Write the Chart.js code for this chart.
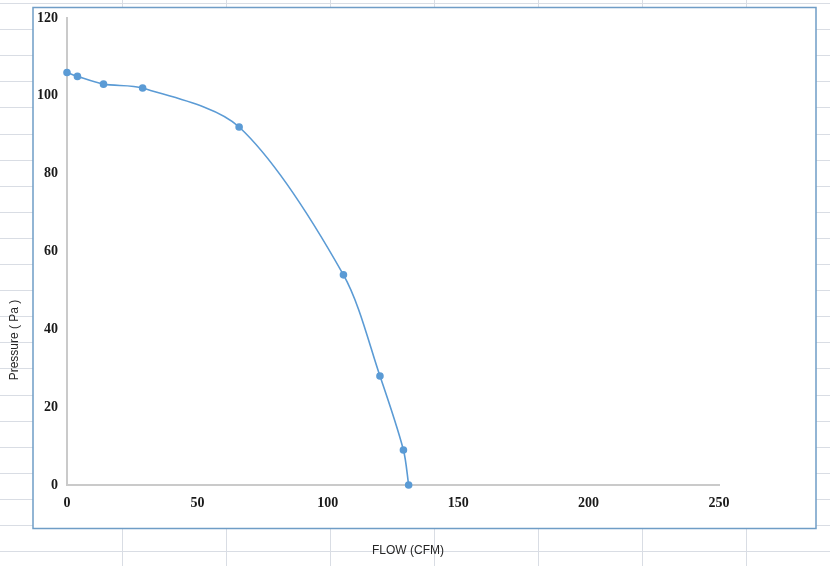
<!DOCTYPE html>
<html>
<head>
<meta charset="utf-8">
<script src="https://cdn.jsdelivr.net/npm/chart.js@4/dist/chart.umd.min.js"></script>
<style>
html,body{margin:0;padding:0;background:#fff;}
#wrap{position:relative;width:830px;height:566px;}
</style>
</head>
<body>
<div id="wrap"><canvas id="c" width="830" height="566"></canvas></div>
<script>
const flowValues = [0, 4, 14, 29, 66, 106, 120, 129, 131];
const pressureValues = [106, 105, 103, 102, 92, 54, 28, 9, 0];
const xTicks = [0, 50, 100, 150, 200, 250];
const yTicks = [0, 20, 40, 60, 80, 100, 120];
const xTitle = 'FLOW (CFM)';
const yTitle = 'Pressure ( Pa )';

const points = flowValues.map((x, i) => ({x: x, y: pressureValues[i]}));

const sheetPlugin = {
  id: 'sheet',
  beforeDraw(chart) {
    const ctx = chart.ctx;
    const W = chart.width, H = chart.height;
    ctx.save();
    ctx.fillStyle = '#ffffff';
    ctx.fillRect(0, 0, W, H);
    ctx.strokeStyle = '#d9dde4';
    ctx.lineWidth = 1;
    for (let y = 3; y < H; y += 26.1) {
      ctx.beginPath(); ctx.moveTo(0, Math.round(y) + 0.5); ctx.lineTo(W, Math.round(y) + 0.5); ctx.stroke();
    }
    for (let x = 122; x < W; x += 104) {
      ctx.beginPath(); ctx.moveTo(x + 0.5, 0); ctx.lineTo(x + 0.5, H); ctx.stroke();
    }
    ctx.fillStyle = '#ffffff';
    ctx.fillRect(33, 7, 783, 521);
    ctx.strokeStyle = '#6f9dc6';
    ctx.lineWidth = 1.5;
    ctx.strokeRect(33, 7.5, 783, 521);
    ctx.fillStyle = '#262626';
    ctx.font = '12px "Liberation Sans", Arial, sans-serif';
    ctx.textAlign = 'center';
    ctx.textBaseline = 'middle';
    ctx.fillText(xTitle, 408, 551);
    ctx.translate(15, 340);
    ctx.rotate(-Math.PI / 2);
    ctx.fillText(yTitle, 0, 0);
    ctx.restore();
  }
};

// Excel-like smoothing: control points at P +/- (Pnext - Pprev)/6, capped at half segment
const smoothPlugin = {
  id: 'excelSmooth',
  beforeDatasetsDraw(chart) {
    const meta = chart.getDatasetMeta(0);
    const line = meta.dataset;
    line.updateControlPoints(chart.chartArea, 'x');
    const pts = meta.data;
    const n = pts.length;
    const f = 1 / 6;
    for (let i = 0; i < n; i++) {
      const p = pts[i];
      const prev = pts[Math.max(0, i - 1)];
      const next = pts[Math.min(n - 1, i + 1)];
      let vx = (next.x - prev.x) * f, vy = (next.y - prev.y) * f;
      if (i === 0 || i === n - 1) { vx *= 0.5; vy *= 0.5; }
      const vl = Math.hypot(vx, vy) || 1;
      const dPrev = Math.hypot(p.x - prev.x, p.y - prev.y);
      const dNext = Math.hypot(next.x - p.x, next.y - p.y);
      const sPrev = Math.min(1, (dPrev / 2) / vl);
      const sNext = Math.min(1, (dNext / 2) / vl);
      p.controlPointPreviousX = p.x - vx * sPrev;
      p.controlPointPreviousY = p.y - vy * sPrev;
      p.controlPointNextX = p.x + vx * sNext;
      p.controlPointNextY = p.y + vy * sNext;
    }
  }
};

new Chart(document.getElementById('c'), {
  type: 'scatter',
  data: {
    datasets: [{
      data: points,
      showLine: true,
      clip: false,
      borderColor: '#5b9bd5',
      backgroundColor: '#5b9bd5',
      borderWidth: 1.6,
      pointRadius: 3,
      pointHoverRadius: 3,
      tension: 0.3
    }]
  },
  options: {
    responsive: false,
    animation: false,
    devicePixelRatio: 1,
    layout: {padding: {left: 0, right: 111, top: 18, bottom: 51}},
    plugins: {legend: {display: false}, tooltip: {enabled: false}},
    scales: {
      x: {
        type: 'linear', min: 0, max: 250,
        afterBuildTicks: s => { s.ticks = xTicks.map(v => ({value: v})); },
        afterFit: s => { s.height = 30; },
        grid: {display: false, drawTicks: false},
        border: {display: true, color: '#cacaca', width: 2},
        ticks: {color: '#1a1a1a', padding: 10, font: {family: '"Liberation Serif", "Times New Roman", serif', size: 14, weight: 'bold'}}
      },
      y: {
        type: 'linear', min: 0, max: 120,
        afterBuildTicks: s => { s.ticks = yTicks.map(v => ({value: v})); },
        afterFit: s => { s.width = 67; },
        grid: {display: false, drawTicks: false},
        border: {display: true, color: '#cacaca', width: 2},
        ticks: {color: '#1a1a1a', padding: 9, font: {family: '"Liberation Serif", "Times New Roman", serif', size: 14, weight: 'bold'}}
      }
    }
  },
  plugins: [sheetPlugin, smoothPlugin]
});
</script>
</body>
</html>
